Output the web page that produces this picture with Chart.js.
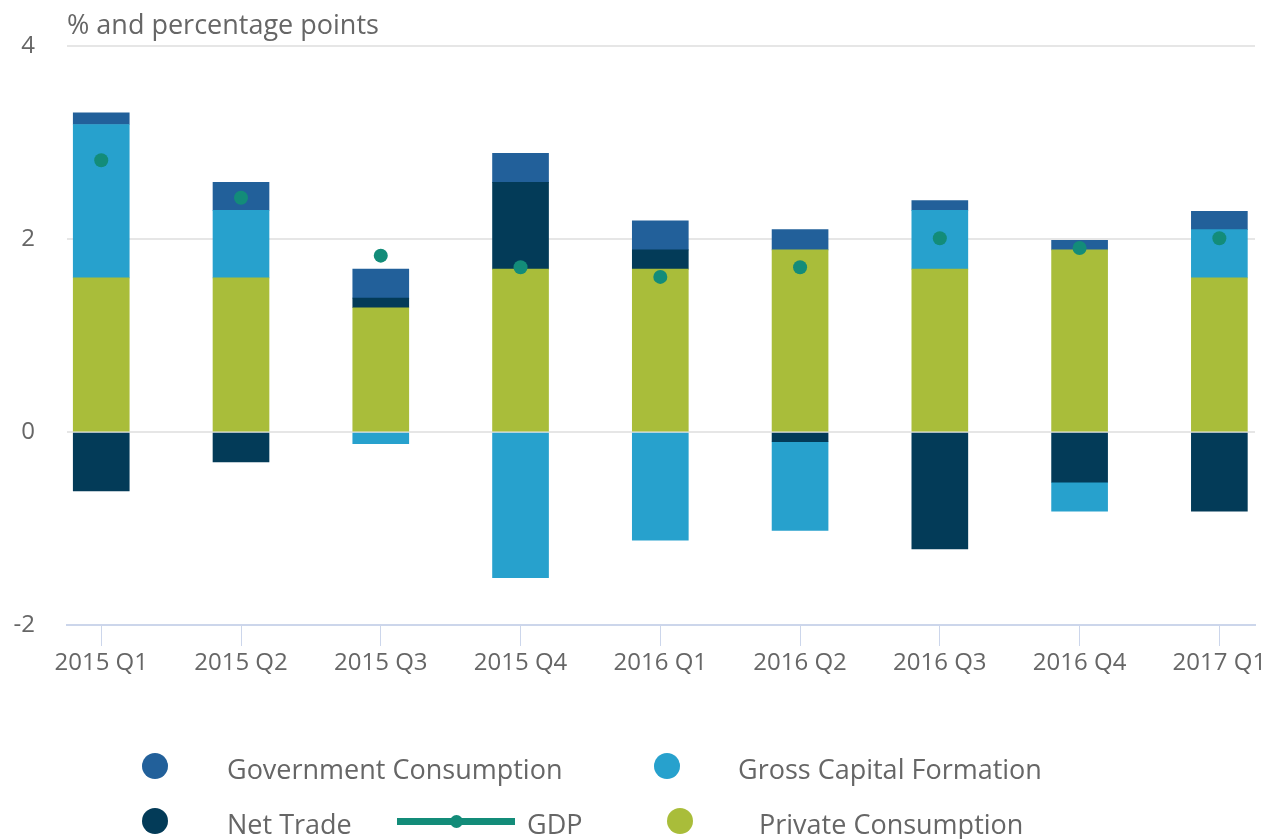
<!DOCTYPE html>
<html>
<head>
<meta charset="utf-8">
<script src="https://cdn.jsdelivr.net/npm/chart.js@4/dist/chart.umd.min.js"></script>
<style>
  body { margin: 0; background: #fff; font-family: 'Open Sans', sans-serif; }
  .wrap { position: relative; width: 1272px; height: 839px; }
  .legend { position: absolute; left: 0; top: 0; width: 1272px; height: 839px; pointer-events: none; color: #666; font-size: 27px; }
  .item { position: absolute; white-space: nowrap; line-height: 30px; }
  .dot { position: absolute; width: 26px; height: 26px; border-radius: 50%; }
  .gline { position: absolute; height: 7px; }
  .gdot { position: absolute; width: 13px; height: 13px; border-radius: 50%; }
</style>
</head>
<body>
<div class="wrap">
  <canvas id="chart" width="1272" height="839"></canvas>
  <div class="legend" id="legend"></div>
</div>
<script>
// DATA
var categories = ['2015 Q1', '2015 Q2', '2015 Q3', '2015 Q4', '2016 Q1', '2016 Q2', '2016 Q3', '2016 Q4', '2017 Q1']
var privateConsumption = [1.6, 1.6, 1.29, 1.69, 1.69, 1.89, 1.69, 1.89, 1.6]
var netTrade = [-0.61, -0.31, 0.1, 0.9, 0.2, -0.1, -1.21, -0.52, -0.82]
var grossCapital = [1.59, 0.7, -0.12, -1.51, -1.12, -0.92, 0.61, -0.3, 0.5]
var governmentConsumption = [0.12, 0.29, 0.3, 0.3, 0.3, 0.21, 0.1, 0.1, 0.19]
var gdp = [2.82, 2.43, 1.83, 1.71, 1.61, 1.71, 2.01, 1.91, 2.01]
var yTicks = [-2, 0, 2, 4]
var title = '% and percentage points'

// COLORS
var green = '#a9bd3a'
var navy = '#033b58'
var lightBlue = '#27a1cd'
var blue = '#22609a'
var teal = '#138c79'
var grey = '#666666'

function points (values) {
  return values.map(function (v, i) { return { x: i, y: v } })
}

var titlePlugin = {
  id: 'titleText',
  afterDraw: function (chart) {
    var ctx = chart.ctx
    ctx.save()
    ctx.font = '27px "Open Sans"'
    ctx.fillStyle = grey
    ctx.textBaseline = 'alphabetic'
    ctx.fillText(title, chart.chartArea.left, 34)
    ctx.restore()
  }
}

var barStyle = { type: 'bar', barThickness: 56, borderWidth: 0, order: 1 }

var chart = new Chart(document.getElementById('chart'), {
  data: {
    datasets: [
      Object.assign({ label: 'Private Consumption', data: points(privateConsumption), backgroundColor: green }, barStyle),
      Object.assign({ label: 'Net Trade', data: points(netTrade), backgroundColor: navy }, barStyle),
      Object.assign({ label: 'Gross Capital Formation', data: points(grossCapital), backgroundColor: lightBlue }, barStyle),
      Object.assign({ label: 'Government Consumption', data: points(governmentConsumption), backgroundColor: blue }, barStyle),
      {
        type: 'line', label: 'GDP', data: points(gdp), stack: 'gdp', order: 0,
        showLine: false, pointRadius: 7, pointBackgroundColor: teal,
        pointBorderWidth: 0, borderColor: teal
      }
    ]
  },
  options: {
    responsive: false,
    animation: false,
    layout: { padding: { top: 45, right: 17, left: 0, bottom: 0 } },
    plugins: { legend: { display: false }, tooltip: { enabled: false } },
    scales: {
      x: {
        type: 'linear',
        stacked: true,
        offset: false,
        min: -0.245,
        max: 8.255,
        afterBuildTicks: function (scale) {
          scale.ticks = categories.map(function (c, i) { return { value: i } })
        },
        afterFit: function (scale) { scale.height = 839 - 625 },
        ticks: {
          autoSkip: false, maxRotation: 0, padding: 3,
          color: grey, font: { family: 'Open Sans', size: 24 },
          callback: function (v) { return categories[v] }
        },
        grid: { offset: false, drawOnChartArea: false, color: '#ccd6eb', tickLength: 21, lineWidth: 1 },
        border: { display: true, color: '#ccd6eb', width: 2 }
      },
      y: {
        stacked: true,
        min: yTicks[0],
        max: yTicks[yTicks.length - 1],
        afterBuildTicks: function (scale) {
          scale.ticks = yTicks.map(function (v) { return { value: v } })
        },
        afterFit: function (scale) { scale.width = 67 },
        ticks: { color: grey, padding: 32, font: { family: 'Open Sans', size: 24 } },
        grid: { color: '#e6e6e6', lineWidth: 2, drawTicks: false },
        border: { display: false }
      }
    }
  },
  plugins: [titlePlugin]
})

// LEGEND (html, built from the chart's datasets)
var legendSpots = {
  'Government Consumption': { x: 142, y: 753, tx: 227 },
  'Gross Capital Formation': { x: 654, y: 753, tx: 738 },
  'Net Trade': { x: 142, y: 808, tx: 227 },
  'GDP': { x: 397, y: 808, tx: 527 },
  'Private Consumption': { x: 667, y: 808, tx: 759 }
}
var legend = document.getElementById('legend')
chart.data.datasets.forEach(function (ds) {
  var s = legendSpots[ds.label]
  var color = ds.type === 'line' ? ds.pointBackgroundColor : ds.backgroundColor
  if (ds.type === 'line') {
    var line = document.createElement('div')
    line.className = 'gline'
    line.style.cssText = 'left:' + s.x + 'px;top:' + (s.y + 10) + 'px;width:118px;background:' + color
    legend.appendChild(line)
    var d = document.createElement('div')
    d.className = 'gdot'
    d.style.cssText = 'left:' + (s.x + 53) + 'px;top:' + (s.y + 7) + 'px;background:' + color
    legend.appendChild(d)
  } else {
    var dot = document.createElement('div')
    dot.className = 'dot'
    dot.style.cssText = 'left:' + s.x + 'px;top:' + s.y + 'px;background:' + color
    legend.appendChild(dot)
  }
  var t = document.createElement('div')
  t.className = 'item'
  t.textContent = ds.label
  t.style.cssText = 'left:' + s.tx + 'px;top:' + (s.y + 1) + 'px'
  legend.appendChild(t)
})
</script>
</body>
</html>
